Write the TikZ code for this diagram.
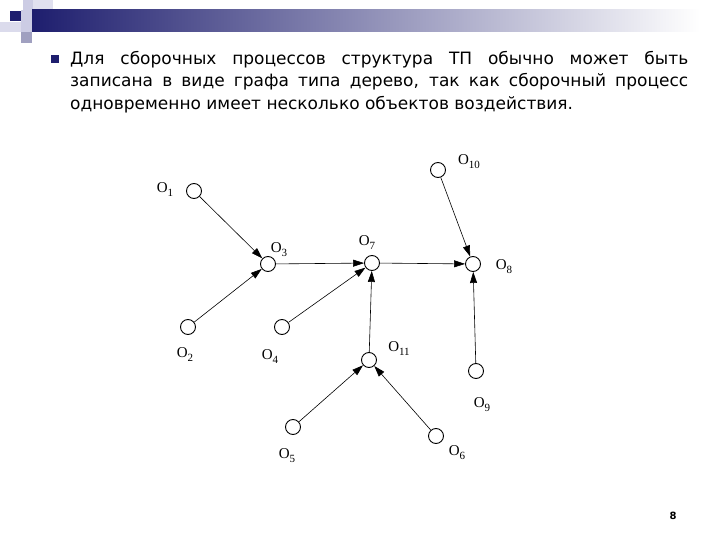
\documentclass[tikz,border=0pt]{standalone}
\usepackage{fontspec}
\setmainfont{DejaVu Sans}
\newfontfamily\serifschrift{Liberation Serif}
\usetikzlibrary{arrows.meta}
\definecolor{dunkelblau}{RGB}{30,30,110}
\definecolor{hellila}{RGB}{204,204,228}
\definecolor{graulila}{RGB}{160,160,192}
\newcommand{\objekt}[1]{O\raisebox{-4pt}{\fontsize{11}{11}\selectfont #1}}

\begin{document}
\begin{tikzpicture}[x=1pt,y=-1pt,
    knoten/.style={circle, draw, line width=0.9pt, minimum size=15pt, inner sep=0pt},
    kante/.style={line width=0.6pt, -{Triangle[length=11pt,width=7pt]}},
    beschr/.style={font=\serifschrift\fontsize{15}{15}\selectfont, inner sep=0pt}]

    \useasboundingbox (0,0) rectangle (720,540);

    % Kopfleiste
    \fill[hellila] (23,0) rectangle (33,10);
    \fill[hellila!60] (33,0) rectangle (53,10);
    \fill[dunkelblau] (10,11) rectangle (21,21);
    \fill[hellila] (21,10) rectangle (32,32);
    \fill[hellila!70] (0,22) rectangle (21,32);
    \fill[graulila] (21,32) rectangle (32,43);
    \shade[left color=dunkelblau, right color=white] (32,10) rectangle (700,32);

    \fill[dunkelblau] (51,55) rectangle (59,63);
    \node[anchor=base west, text width=618pt, align=justify, inner sep=0pt,
          font=\fontsize{17}{22.5}\selectfont] (text) at (70,64.5)
        {Для сборочных процессов структура ТП обычно может быть\linebreak
         записана в виде графа типа дерево, так как сборочный процесс\linebreak
         одновременно имеет несколько объектов воздействия.};

    \foreach \x/\px/\py in {1/194/191,2/188/327,3/268/264,4/282/327,5/293/427,6/436/436,
                            7/372/263,8/473/264,9/476/371,10/438/170,11/369/360}{
            \node[knoten] (O\x) at (\px,\py) {};
        }

    \foreach \x/\px/\py in {1/165/190,2/185/355,3/279/250,4/270/357,5/287/456,6/457/453,
                            7/367/243,8/504/267,9/482/405,10/469/162,11/399/349}{
            \node[beschr] (L\x) at (\px,\py) {\objekt{\x}};
        }

    \foreach \a/\b in {1/3,2/3,3/7,4/7,11/7,7/8,10/8,9/8,5/11,6/11}
				\draw[kante] (O\a) -- (O\b);

    \node (seite) at (673,516) {\fontsize{10}{10}\selectfont\bfseries 8};

\end{tikzpicture}
\end{document}
